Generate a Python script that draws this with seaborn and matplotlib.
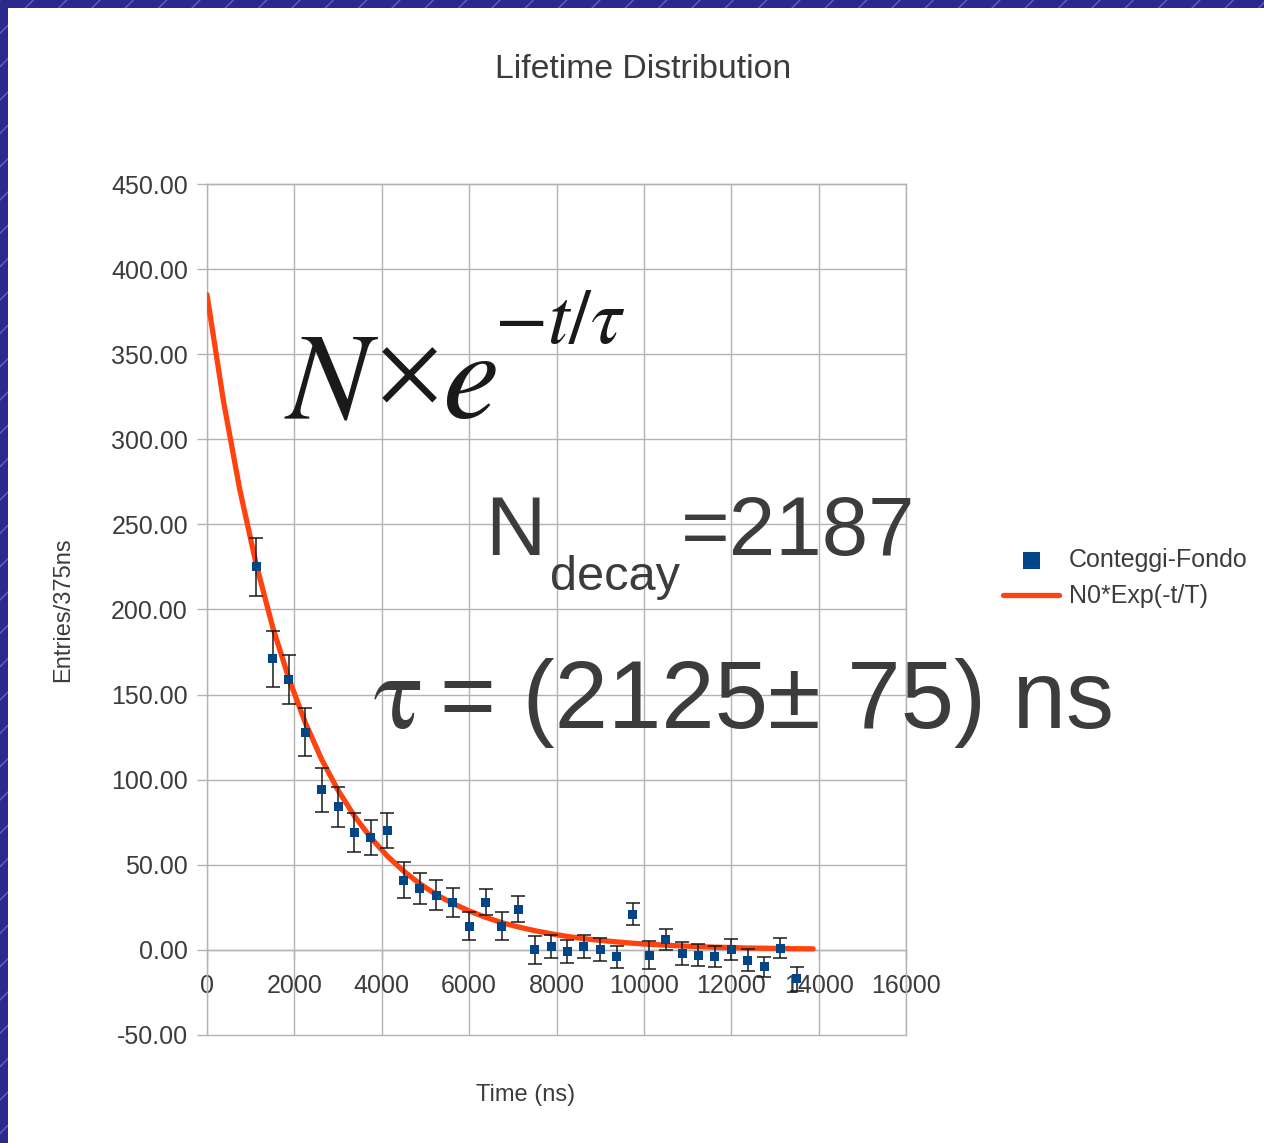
import matplotlib
matplotlib.use("Agg")
import matplotlib.pyplot as plt
from matplotlib.patches import Rectangle
from matplotlib.ticker import FormatStrFormatter
import numpy as np
import pandas as pd
import seaborn as sns

# ---------------- data ----------------
time_ns = [1125, 1500, 1875, 2250, 2625, 3000, 3375, 3750, 4125, 4500,
           4875, 5250, 5625, 6000, 6375, 6750, 7125, 7500, 7875, 8250,
           8625, 9000, 9375, 9750, 10125, 10500, 10875, 11250, 11625, 12000,
           12375, 12750, 13125, 13500]
counts = [225, 171, 159, 128, 94, 84, 69, 66, 70, 41,
          36, 32, 28, 14, 28, 14, 24, 0, 2, -1,
          2, 0, -4, 21, -3, 6, -2, -3, -4, 0,
          -6, -10, 1, -17]
errors = [16.8, 16.5, 14.4, 14.1, 13.1, 11.7, 11.4, 10.5, 10.3, 10.7,
          9.1, 8.8, 8.5, 8.3, 7.5, 8.3, 7.6, 8.1, 6.5, 6.8,
          6.5, 6.7, 6.5, 6.3, 8.0, 6.2, 6.8, 6.3, 6.1, 6.2,
          6.5, 6.0, 5.7, 7.0]

fit_t = [0, 375, 750, 1125, 1500, 1875, 2250, 2625, 3000, 3375,
         3750, 4125, 4500, 4875, 5250, 5625, 6000, 6375, 6750, 7125,
         7500, 7875, 8250, 8625, 9000, 9375, 9750, 10125, 10500, 10875,
         11250, 11625, 12000, 12375, 12750, 13125, 13500, 13875]
fit_n = [385.0, 322.7, 270.5, 226.7, 190.0, 159.3, 133.5, 111.9, 93.8, 78.6,
         65.9, 55.2, 46.3, 38.8, 32.5, 27.3, 22.9, 19.2, 16.0, 13.5,
         11.3, 9.5, 7.9, 6.6, 5.6, 4.7, 3.9, 3.3, 2.8, 2.3,
         1.9, 1.6, 1.4, 1.1, 1.0, 0.8, 0.7, 0.6]

x_ticks = [0, 2000, 4000, 6000, 8000, 10000, 12000, 14000, 16000]
y_ticks = [-50, 0, 50, 100, 150, 200, 250, 300, 350, 400, 450]

title = "Lifetime Distribution"
x_label = "Time (ns)"
y_label = "Entries/375ns"
series_points = "Conteggi-Fondo"
series_fit = "N0*Exp(-t/T)"

# ---------------- style ----------------
sns.set_style("white")
plt.rcParams["font.family"] = ["Liberation Sans", "DejaVu Sans"]
plt.rcParams["mathtext.fontset"] = "stix"

TEXT = "#3c3c3c"
GRID = "#b3b3b3"
W, H = 1264, 1143

fig = plt.figure(figsize=(W / 100, H / 100), dpi=100)
fig.patch.set_facecolor("white")

# slide-like border (blue hatched band top and left)
fig.patches.append(Rectangle((0, 0), 1, 1, transform=fig.transFigure,
                             facecolor="#2a2a8e", edgecolor="#6464b8",
                             hatch="/", linewidth=0, zorder=-10))
fig.patches.append(Rectangle((8 / W, 0), 1 - 8 / W, 1 - 8 / H,
                             transform=fig.transFigure, facecolor="white",
                             edgecolor="none", zorder=-9))

ax = fig.add_axes([207 / W, 1 - 1035 / H, 699 / W, 851 / H])
ax.set_facecolor("white")

df = pd.DataFrame({"t": time_ns, "n": counts, "err": errors})
fit = pd.DataFrame({"t": fit_t, "n": fit_n})

sns.lineplot(data=fit, x="t", y="n", color="#ff420e", lw=3.8, ax=ax,
             zorder=3, label=series_fit)
ax.errorbar(df["t"], df["n"], yerr=df["err"], fmt="none", ecolor="#1a1a1a",
            elinewidth=1.1, capsize=5, capthick=1.1, zorder=4)
sns.scatterplot(data=df, x="t", y="n", marker="s", s=42, color="#004586",
                edgecolor="none", linewidth=0, ax=ax, zorder=5,
                label=series_points)

ax.set_xlim(0, 16000)
ax.set_ylim(-50, 450)
ax.set_xticks(x_ticks)
ax.set_yticks(y_ticks)
ax.yaxis.set_major_formatter(FormatStrFormatter("%.2f"))
ax.set_axisbelow(True)
ax.grid(True, color=GRID, lw=1)
for gl in ax.get_ygridlines() + ax.get_xgridlines():
    gl.set_clip_on(False)
for s in ax.spines.values():
    s.set_color(GRID)
    s.set_linewidth(1)
ax.spines["bottom"].set_position(("data", 0))

ax.tick_params(axis="both", labelsize=18, labelcolor=TEXT, color=GRID,
               length=7.2, width=1, direction="out")
ax.tick_params(axis="y", pad=6.5, left=True)
ax.tick_params(axis="x", pad=10.5, bottom=True)

ax.set_xlabel(x_label, fontsize=17, color=TEXT)
ax.xaxis.set_label_coords((526 - 207) / 699, (1035 - 1095) / 851)
ax.xaxis.label.set_va("center")
ax.set_ylabel(y_label, fontsize=17, color=TEXT)
ax.yaxis.set_label_coords((63 - 207) / 699, (1035 - 610) / 851)
ax.yaxis.label.set_va("center")

fig.text(643 / W, 1 - 70 / H, title, ha="center", va="center",
         fontsize=24.3, color=TEXT)

# legend
handles, labels = ax.get_legend_handles_labels()
order = [labels.index(series_points), labels.index(series_fit)]
ax.legend([handles[i] for i in order], [labels[i] for i in order],
          loc="center left", bbox_to_anchor=(1003 / W, 1 - 578 / H),
          bbox_transform=fig.transFigure, frameon=False, fontsize=18,
          handlelength=2.25, handletextpad=0.4, labelspacing=0.5,
          borderpad=0, borderaxespad=0, labelcolor=TEXT, markerscale=1.9)

# annotations
def ftext(px, py, s, **kw):
    fig.text(px / W, 1 - py / H, s, va="baseline", ha="left", **kw)

FORM = "#1a1a1a"
ftext(284, 418, r"$N$", fontsize=90, color=FORM)
ftext(377, 399, r"$\times$", fontsize=71, color=FORM)
ftext(442, 418, r"$e$", fontsize=92, color=FORM)
ftext(494, 343, r"$-t/\tau$", fontsize=56, color=FORM)
ftext(485, 555, "N", fontsize=60, color=TEXT)
ftext(550, 590, "decay", fontsize=35, color=TEXT)
ftext(681, 555, "=2187", fontsize=60, color=TEXT)
ftext(374, 728, "τ", fontsize=75, color=TEXT, family="STIXGeneral")
ftext(440, 728, "= (2125± 75) ns", fontsize=69, color=TEXT)

fig.savefig("out.png", dpi=100)
